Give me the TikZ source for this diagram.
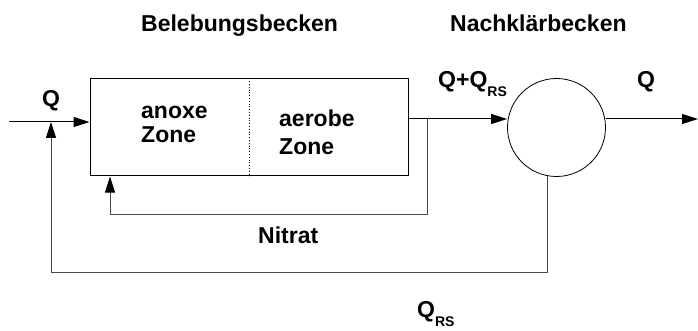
\documentclass[tikz,border=0pt]{standalone}
\usepackage{fontspec}
\setmainfont{Liberation Sans}
\usetikzlibrary{arrows.meta,positioning,calc}
\definecolor{klLine}{HTML}{000000}
\definecolor{klLoop}{HTML}{4a4a4a}
\tikzset{
  >={Triangle[length=16pt,width=10pt,color=klLine]},
  becken/.style={draw=klLine, line width=1pt, minimum width=318pt,
              minimum height=97pt, inner sep=0pt},
  klaer/.style={circle, draw=klLine, line width=0.8pt, minimum size=98pt,
              inner sep=0pt},
  lbl/.style={font=\fontsize{23}{24}\selectfont\bfseries, inner sep=0pt,
              anchor=base west},
  zone/.style={lbl, align=left},
  flow/.style={->, draw=klLine, line width=1pt},
  loop/.style={->, draw=klLoop, line width=1pt},
}
\newcommand{\sub}[1]{\raisebox{-9pt}{\fontsize{14}{14}\selectfont #1}}

\begin{document}
\begin{tikzpicture}[x=1pt,y=-1pt]
        \useasboundingbox (0,0) rectangle (698,331);
        \node[becken] (bb) at (249,127.5) {};
        \draw[dotted,line width=0.8pt] (bb.north) -- (bb.south);
        \node[klaer] (nk) at (556.5,127.5) {};
        % Zufluss und Ablauf
        \coordinate (zu) at (9,122);
        \coordinate (j) at (51,122);
        \coordinate (aus) at (408,119);
        \coordinate (nb) at (427,119);
        \coordinate (ab) at (698,119);
        \draw[flow] (zu) -- (zu -| bb.west);
        \draw[flow] (aus) -- (aus -| nk.west);
        \draw[flow] (aus -| nk.east) -- (ab);
        % Rueckfuehrungen
        \coordinate (nu) at (110,214);
        \coordinate (ru) at (51,272);
        \draw[loop] (nb) |- (nu) -- (nu |- bb.south);
        \draw[loop] (nk.259) |- (ru) -- (j);
        % Beschriftung
        \node[lbl] (tb) at (141,32) {Belebungsbecken};
        \node[lbl] (tn) at (450,32) {Nachklärbecken};
        \node[lbl,anchor=base] (qin) at (51,106.5) {Q};
        \node[zone] (an) at (141,143) {anoxe\\Zone};
        \node[zone] (ae) at (279,155) {aerobe\\[4pt]Zone};
        \node[lbl] (qsum) at (438,88) {Q+Q\sub{RS}};
        \node[lbl] (qout) at (637,88) {Q};
        \node[lbl] (ni) at (258,243) {Nitrat};
        \node[lbl] (qrs) at (417,317) {Q\sub{RS}};
      \end{tikzpicture}
\end{document}
